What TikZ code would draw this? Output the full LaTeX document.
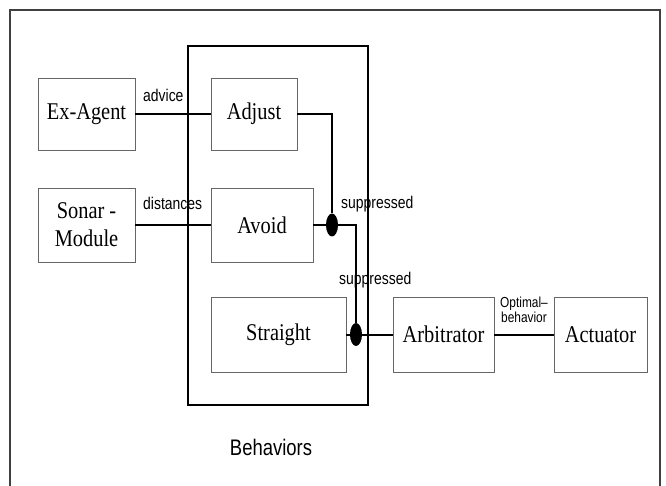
\documentclass[tikz,border=0pt]{standalone}
\usepackage{fontspec}
\setmainfont{Liberation Serif}
\setsansfont{Liberation Sans}
\newfontfamily\narrowserif[FakeStretch=0.85]{Liberation Serif}
\newfontfamily\narrowsans[FakeStretch=0.82]{Liberation Sans}
\usetikzlibrary{shapes.geometric}

\begin{document}
\begin{tikzpicture}[x=1pt,y=-1pt,
    block/.style={draw=black!60,line width=0.8pt,inner sep=0pt,align=center,font=\narrowserif\fontsize{24}{28}\selectfont},
    group/.style={draw,line width=2.2pt,inner sep=0pt},
    junction/.style={ellipse,fill=black,minimum width=12pt,minimum height=23pt,inner sep=0pt},
    lbl/.style={font=\narrowsans\fontsize{17}{19}\selectfont,inner sep=0pt},
    wire/.style={line width=2pt}]
        \useasboundingbox (0,0) rectangle (666,486);
        \draw[draw=black!75,line width=1.2pt] (10,486) -- (10,10) -- (660,10) -- (660,486);
        \path
          (278,225.5) node[group,minimum width=180pt,minimum height=359pt] (behav) {}
          (86.5,114)  node[block,minimum width=97pt,minimum height=72pt]  (exagent) {Ex-Agent}
          (86.5,225)  node[block,minimum width=97pt,minimum height=74pt]  (sonar) {Sonar -\\Module}
          (254,114)   node[block,minimum width=86pt,minimum height=72pt]  (adjust) {Adjust}
          (262,225)   node[block,minimum width=102pt,minimum height=74pt] (avoid) {Avoid}
          (278.5,334.5) node[block,minimum width=135pt,minimum height=75pt] (straight) {Straight}
          (443.5,334.5) node[block,minimum width=101pt,minimum height=75pt] (arbitrator) {Arbitrator}
          (600.5,334.5) node[block,minimum width=93pt,minimum height=75pt]  (actuator) {Actuator}
          (332,225)   node[junction] (dot1) {}
          (356,334.5) node[junction] (dot2) {};
        \node[lbl,anchor=west] (advice) at (143,95) {advice};
        \node[lbl,anchor=west] (dist) at (143,203) {distances};
        \node[lbl,anchor=west] (supp1) at (341,204) {suppressed};
        \node[lbl,anchor=west] (supp2) at (339,280) {suppressed};
        \node[lbl,align=center,font=\narrowsans\fontsize{14.5}{15.5}\selectfont] (opt) at (524,310) {Optimal\textendash\\behavior};
        \node[lbl,font=\narrowsans\fontsize{22.5}{24}\selectfont] (behavtxt) at (271,447) {Behaviors};
        \draw[wire]
          (exagent) -- (adjust)
          (sonar)   -- (avoid)
          (adjust.east) -| (dot1.north)
          (avoid)   -- (dot1)
          (dot1)    -| (dot2.north)
          (straight) -- (dot2)
          (dot2)    -- (arbitrator)
          (arbitrator) -- (actuator);
      \end{tikzpicture}
\end{document}
